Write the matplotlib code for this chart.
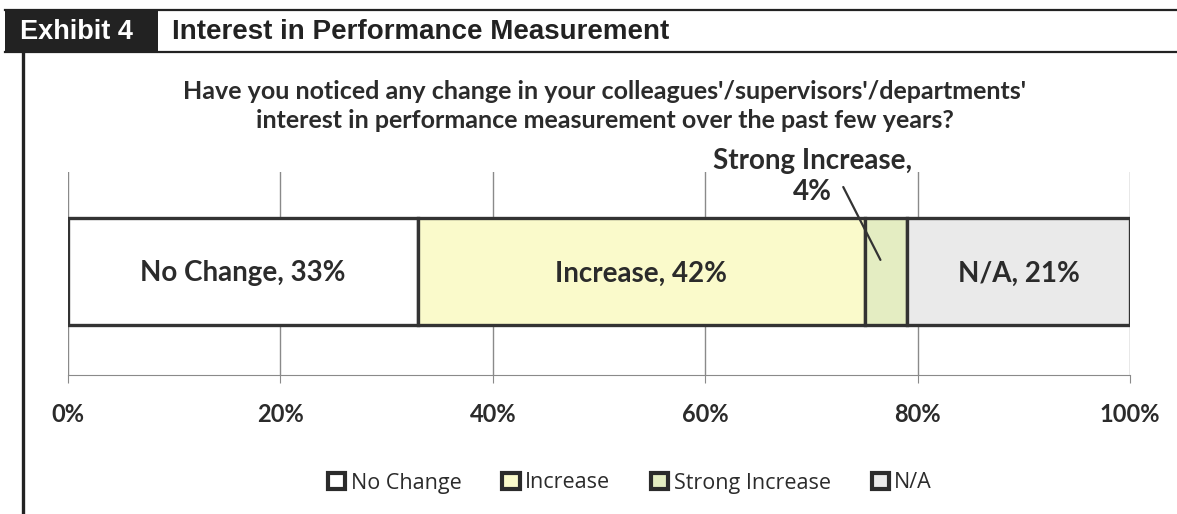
import matplotlib.pyplot as plt
from matplotlib.patches import Rectangle
from matplotlib.lines import Line2D

# data
categories = ["No Change", "Increase", "Strong Increase", "N/A"]
shares = [33, 42, 4, 21]
colors = ["#FFFFFF", "#FAFACB", "#E4EDC2", "#EAEAEA"]
ticks = [0, 20, 40, 60, 80, 100]
tick_labels = ["0%", "20%", "40%", "60%", "80%", "100%"]

W, H = 1177, 514
fig = plt.figure(figsize=(W / 100, H / 100), dpi=100)
fig.patch.set_facecolor("white")
ink = "#2b2b2b"


def fx(px):
    return px / W


def fy(py):
    return 1 - py / H


# header box and rules
fig.add_artist(Rectangle((fx(5), fy(52)), fx(158) - fx(5), fy(10) - fy(52),
                         facecolor="#222222", edgecolor="none"))
fig.add_artist(Line2D([fx(5), 1], [fy(10), fy(10)], color="#222222", lw=1.6))
fig.add_artist(Line2D([fx(5), 1], [fy(52), fy(52)], color="#222222", lw=1.6))
fig.add_artist(Line2D([fx(23), fx(23)], [fy(52), 0], color="#222222", lw=2.4))
fig.text(fx(20), fy(32), "Exhibit 4", color="white", fontsize=19.5,
         fontweight="bold", family="Liberation Sans", va="center", ha="left")
fig.text(fx(172), fy(32), "Interest in Performance Measurement", color="#222222",
         fontsize=20, fontweight="bold", family="Liberation Sans", va="center", ha="left")

fig.text(fx(605), fy(106),
         "Have you noticed any change in your colleagues'/supervisors'/departments'\n"
         "interest in performance measurement over the past few years?",
         ha="center", va="center", fontsize=18, fontweight="bold", family="Lato",
         color=ink, linespacing=1.3)

ax = fig.add_axes([fx(68), fy(375), fx(1130) - fx(68), fy(172) - fy(375)])
ax.set_xlim(0, 100)
ax.set_ylim(0, 1)

left = 0
for cat, val, col in zip(categories, shares, colors):
    ax.barh(0.51, val, left=left, height=0.527, color=col, edgecolor="#333333",
            linewidth=2.4, label=cat, zorder=3)
    if val >= 10:
        ax.text(left + val / 2, 0.50, f"{cat}, {val}%", ha="center", va="center",
                fontsize=20, fontweight="bold", family="Lato", color=ink, zorder=4)
    left += val

# callout for the small segment
si = categories.index("Strong Increase")
si_left = sum(shares[:si])
ax.text(si_left - 4.9, 0.978, f"{categories[si]},\n{shares[si]}%", ha="center",
        va="center", fontsize=20, fontweight="bold", family="Lato", color=ink,
        linespacing=1.25, clip_on=False)
ax.annotate("", xy=(si_left + 1.5, 0.567), xytext=(si_left - 2.0, 0.926),
            annotation_clip=False,
            arrowprops=dict(arrowstyle="-", color="#333333", lw=1.6,
                            shrinkA=0, shrinkB=0))

ax.set_xticks(ticks)
ax.set_xticklabels(tick_labels, fontsize=17, fontweight="bold", family="Lato",
                   color=ink)
ax.set_yticks([])
ax.grid(axis="x", color="#8a8a8a", lw=1, zorder=0)
for s in ["top", "left", "right"]:
    ax.spines[s].set_visible(False)
ax.spines["bottom"].set_color("#8a8a8a")
ax.tick_params(axis="x", length=6, color="#8a8a8a", pad=14)

handles = [Rectangle((0, 0), 1, 1, facecolor=c, edgecolor="#2b2b2b", lw=3)
           for c in colors]
fig.legend(handles, categories, loc="center", bbox_to_anchor=(fx(630), fy(483)),
           ncol=4, frameon=False, handlelength=0.8, handleheight=0.8,
           handletextpad=0.25, columnspacing=1.9,
           prop={"family": "Open Sans", "size": 15.5})
for t in fig.legends[0].get_texts():
    t.set_color(ink)

fig.savefig("out.png", dpi=100)
